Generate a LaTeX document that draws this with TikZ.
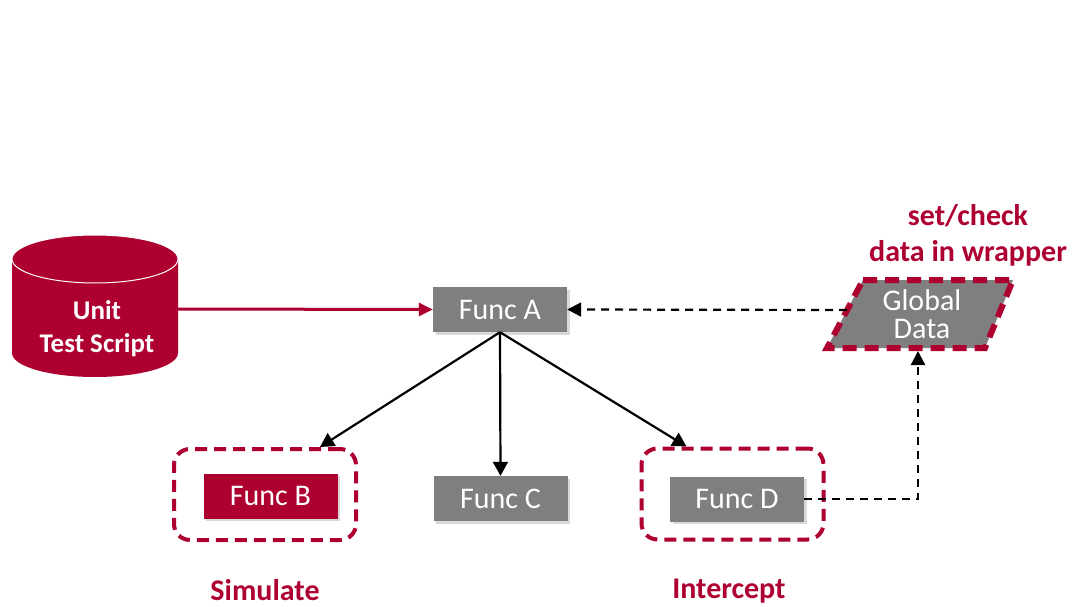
\documentclass[tikz,border=0pt]{standalone}
\usepackage{fontspec}
\setmainfont{Carlito}
\usetikzlibrary{arrows.meta,shadows}
\definecolor{wine}{HTML}{AE0030}
\definecolor{boxgray}{HTML}{7F7F7F}
\tikzset{
  func/.style={minimum width=134pt, minimum height=45pt, inner sep=0pt,
    text=white, font=\fontsize{30}{34}\selectfont,
    drop shadow={shadow xshift=2.5pt, shadow yshift=-2.5pt, opacity=0.3}},
  grayfunc/.style={func, fill=boxgray},
  redfunc/.style={func, fill=wine},
  wrapbox/.style={draw=wine, line width=4pt, dash pattern=on 12pt off 7pt,
    rounded corners=16pt, minimum width=182pt, minimum height=91pt, inner sep=0pt},
  call/.style={draw=black, line width=2.2pt,
    -{Triangle[length=14pt, width=15pt]}},
  dataflow/.style={draw=black, line width=2.2pt, dash pattern=on 8pt off 6pt,
    -{Triangle[length=14pt, width=14pt]}},
  caption/.style={text=wine, font=\bfseries\fontsize{30}{36}\selectfont, align=center}
}
\begin{document}
\begin{tikzpicture}[x=1pt, y=-1pt]
\useasboundingbox (0,0) rectangle (1076,607);

% unit test script drum
\fill[wine] (12,259) -- (12,353) arc[start angle=180, end angle=0, x radius=83, y radius=24]
  -- (178,259) arc[start angle=0, end angle=-180, x radius=83, y radius=24] -- cycle;
\draw[white, line width=1pt] (95,259) ellipse[x radius=83, y radius=24];
\node[minimum width=166pt, minimum height=40pt, inner sep=0pt] (uts) at (95,309) {};
\node[text=white, font=\bfseries\fontsize{27}{33}\selectfont, align=center] (utstext) at (97,329) {Unit\\Test Script};

% functions
\node[grayfunc] (fa) at (500,309.5) {Func A};
\node[wrapbox] (wb) at (265,494.5) {};
\node[redfunc] (fb) at (270.5,496) {Func B};
\node[grayfunc] (fc) at (500.5,498.5) {Func C};
\node[wrapbox] (wd) at (732.5,494) {};
\node[grayfunc] (fd) at (737,499) {Func D};

% global data parallelogram
\coordinate (gtl) at (863,280);
\coordinate (gtr) at (1013,280);
\coordinate (gbr) at (985,348);
\coordinate (gbl) at (827,348);
\filldraw[fill=boxgray, draw=wine, line width=6pt, dash pattern=on 14pt off 8pt, line join=miter]
  (gtl) -- (gtr) -- (gbr) -- (gbl) -- cycle;
\node[text=white, font=\fontsize{30}{28}\selectfont, align=center] (gd) at (922,314) {Global\\Data};
\coordinate (gdleft) at (847,310);
\coordinate (gdbottom) at (918,351);

% captions
\node[caption] (cap) at (968,235) {set/check\\data in wrapper};
\node[caption] (sim) at (265,590) {Simulate};
\node[caption] (icp) at (729,591) {Intercept};

% connectors
\draw[draw=wine, line width=3pt, -{Triangle[length=14pt, width=13pt]}] (uts.east) -- (fa.west);
\draw[dataflow] (gdleft) -- (fa.east);
\draw[call] (fa.south) -- ([xshift=55pt]wb.north);
\draw[call] (fa.south) -- (fc.north);
\draw[call] (fa.south) -- ([xshift=-46pt]wd.north);
\draw[dataflow] (fd.east) -| (gdbottom);
\end{tikzpicture}
\end{document}
